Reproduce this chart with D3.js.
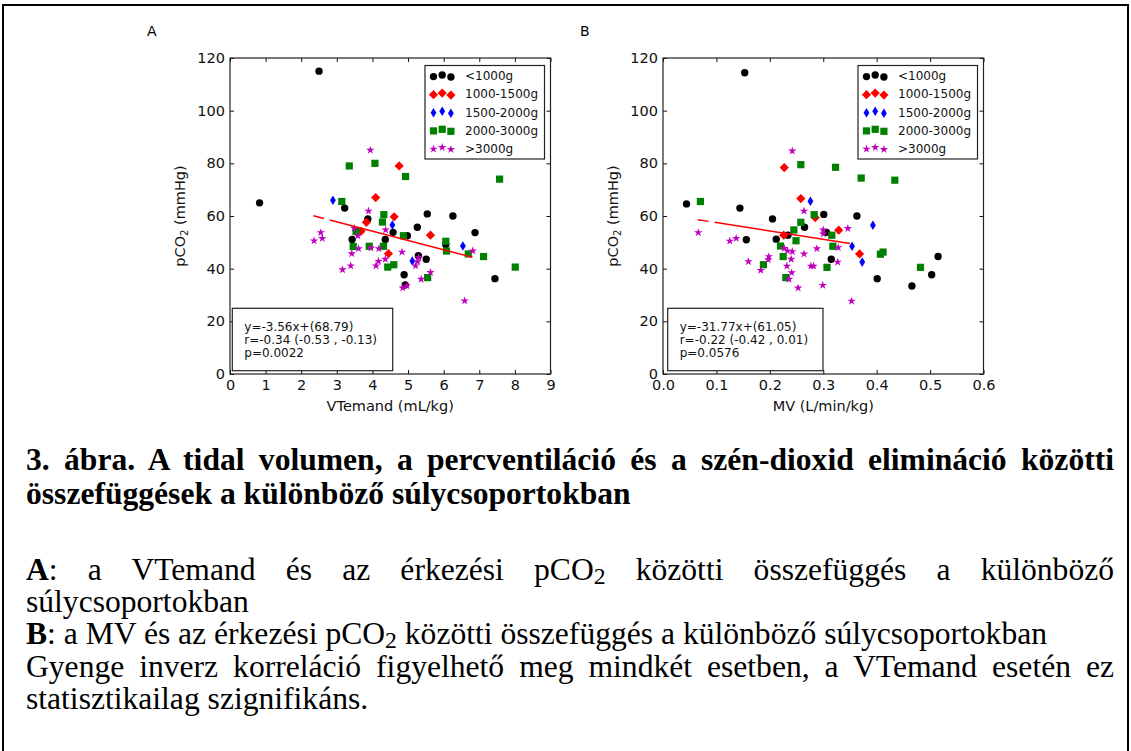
<!DOCTYPE html>
<html>
<head>
<meta charset="utf-8">
<script src="https://cdn.jsdelivr.net/npm/d3@7"></script>
<style>
  body { margin: 0; background: #fff; }
  #wrap { position: relative; width: 1131px; height: 751px; overflow: hidden; }
  svg { position: absolute; left: 0; top: 0; }
  .cap { position: absolute; left: 26px; font-family: "Liberation Serif", "Times New Roman", serif;
         font-size: 30.5px; line-height: 30.5px; white-space: nowrap; transform-origin: 0 0; color: #000; }
  .cap.just { white-space: normal; text-align: justify; text-align-last: justify; }
  .cap sub { font-size: 75%; line-height: 0; vertical-align: baseline; position: relative; top: 0.18em; }
</style>
</head>
<body>
<div id="wrap"></div>
<script>
// ---- data ----
const groupNames = ["<1000g", "1000-1500g", "1500-2000g", "2000-3000g", ">3000g"];
const yTicks = [0, 20, 40, 60, 80, 100, 120];
const xTicksA = [0, 1, 2, 3, 4, 5, 6, 7, 8, 9];
const xTicksB = [0, 0.1, 0.2, 0.3, 0.4, 0.5, 0.6];

// panel A : VTemand (mL/kg) vs pCO2
const aUnder1000 = [[2.5,115],[0.83,65],[3.22,63],[3.87,58.9],[5.54,60.8],[6.26,60],[5.26,55.7],[4.58,53.8],
  [4.98,52.5],[3.43,51.1],[4.36,51.1],[6.06,49.2],[6.88,53.7],[5.29,44.9],[5.51,43.6],[4.89,37.7],[4.92,33.8],[7.44,36.2]];
const a1000to1500 = [[4.75,79],[4.09,67],[4.61,59.7],[3.83,57.6],[3.68,54.2],[5.63,52.7],[4.45,45.7]];
const a1500to2000 = [[2.89,66],[4.56,56.6],[6.54,48.6],[5.12,42.9]];
const a2000to3000 = [[3.35,79],[4.07,80],[4.93,75],[7.57,74],[3.14,65.5],[4.32,60.5],[4.28,57.7],[3.54,54.1],
  [4.87,52.5],[3.91,48.5],[4.31,48.5],[3.46,48.4],[6.06,50.4],[6.08,46.7],[6.69,45.6],[7.12,44.6],[4.43,40.6],
  [4.6,41.5],[5.55,36.6],[8.01,40.6]];
const aOver3000 = [[3.94,85],[3.89,61.9],[3.49,55.4],[3.59,52.5],[4.37,54.7],[2.55,53.7],[2.59,51.5],[2.36,50.6],
  [3.61,47.6],[3.96,47.9],[4.18,47.6],[6.82,46.8],[3.42,45.7],[4.83,46.3],[4.36,43.6],[4.17,42.8],[4.1,41.1],
  [5.3,44.3],[5.27,42.7],[5.21,41.1],[3.39,41.1],[3.16,39.6],[5.63,38.6],[5.37,36],[4.97,33.5],[4.85,32.7],[6.59,27.8]];
const aFit = [[2.34,60.1],[6.81,44.3]];
const aStats = ["y=-3.56x+(68.79)", "r=-0.34 (-0.53 , -0.13)", "p=0.0022"];

// panel B : MV (L/min/kg) vs pCO2
const bUnder1000 = [[0.153,114.4],[0.044,64.6],[0.144,63],[0.301,60.6],[0.363,60],[0.205,58.9],[0.265,55.7],
  [0.306,53.8],[0.234,52.7],[0.156,51],[0.212,51.2],[0.315,43.6],[0.401,36.2],[0.466,33.4],[0.503,37.7],[0.515,44.6]];
const b1000to1500 = [[0.227,78.4],[0.258,66.6],[0.285,59.4],[0.329,54.6],[0.226,52.7],[0.368,45.6]];
const b1500to2000 = [[0.276,65.6],[0.393,56.5],[0.354,48.5],[0.373,42.5]];
const b2000to3000 = [[0.258,79.5],[0.323,78.5],[0.371,74.4],[0.434,73.6],[0.07,65.5],[0.283,60.5],[0.258,57.6],
  [0.245,54.7],[0.316,52.7],[0.249,50.6],[0.22,48.6],[0.318,48.5],[0.225,44.6],[0.407,45.5],[0.412,46.3],
  [0.188,41.5],[0.307,40.5],[0.23,36.6],[0.482,40.5]];
const bOver3000 = [[0.242,84.7],[0.264,61.9],[0.346,55.3],[0.3,54.7],[0.3,53.2],[0.066,53.7],[0.125,50.5],
  [0.137,51.5],[0.328,48],[0.227,47.7],[0.233,46.8],[0.242,46.5],[0.288,47.6],[0.264,45.6],[0.198,44.6],
  [0.197,43.4],[0.24,43.6],[0.327,42.5],[0.16,42.7],[0.183,39.4],[0.232,41],[0.277,41],[0.282,41],[0.241,38.5],
  [0.236,36],[0.253,32.7],[0.299,33.7],[0.353,27.7]];
const bFit = [[0.065,58.6],[0.35,49.6]];
const bStats = ["y=-31.77x+(61.05)", "r=-0.22 (-0.42 , 0.01)", "p=0.0576"];

const captionLines = [
  "<b>3. ábra. A tidal volumen, a percventiláció és a szén-dioxid elimináció közötti</b>",
  "<b>összefüggések a különböző súlycsoportokban</b>",
  "<b>A</b>: a VTemand és az érkezési pCO<sub>2</sub> közötti összefüggés a különböző",
  "súlycsoportokban",
  "<b>B</b>: a MV és az érkezési pCO<sub>2</sub> közötti összefüggés a különböző súlycsoportokban",
  "Gyenge inverz korreláció figyelhető meg mindkét esetben, a VTemand esetén ez",
  "statisztikailag szignifikáns."
];
const captionJustified = [true, false, true, false, false, true, false];

// ---- styles ----
const colors = ["#000000", "#ff0000", "#0000ff", "#008000", "#bf00bf"];
const shapes = [
  d3.symbol(d3.symbolCircle, Math.PI * 3.7 * 3.7)(),
  "M0,-4.6L4.6,0L0,4.6L-4.6,0Z",
  "M0,-4.8L2.9,0L0,4.8L-2.9,0Z",
  d3.symbol(d3.symbolSquare, 52)(),
  d3.symbol(d3.symbolStar, 22)()
];
const font = "'DejaVu Sans', 'Bitstream Vera Sans', sans-serif";
const plotTop = 58, plotBottom = 374, plotW = 320.5;

const svg = d3.select("#wrap").append("svg").attr("width", 1131).attr("height", 751);

// outer border of the figure
svg.append("rect").attr("x", 3).attr("y", 5).attr("width", 1125).attr("height", 780)
  .attr("fill", "none").attr("stroke", "#000").attr("stroke-width", 2);

function drawPanel(cfg) {
  const x = d3.scaleLinear().domain(cfg.xDomain).range([cfg.left, cfg.left + plotW]);
  const y = d3.scaleLinear().domain([0, 120]).range([plotBottom, plotTop]);
  const g = svg.append("g");

  g.append("text").attr("x", cfg.left - 83).attr("y", 35.5).attr("font-family", font)
    .attr("font-size", 14).text(cfg.letter);

  const bottom = g.append("g").attr("transform", "translate(0," + plotBottom + ")")
    .call(d3.axisBottom(x).tickValues(cfg.xTicks).tickFormat(cfg.xFmt).tickSizeInner(-4).tickSizeOuter(0).tickPadding(6));
  g.append("g").attr("transform", "translate(0," + plotTop + ")")
    .call(d3.axisTop(x).tickValues(cfg.xTicks).tickFormat("").tickSizeInner(-4).tickSizeOuter(0));
  const left = g.append("g").attr("transform", "translate(" + cfg.left + ",0)")
    .call(d3.axisLeft(y).tickValues(yTicks).tickSizeInner(-4).tickSizeOuter(0).tickPadding(5));
  g.append("g").attr("transform", "translate(" + (cfg.left + plotW) + ",0)")
    .call(d3.axisRight(y).tickValues(yTicks).tickFormat("").tickSizeInner(-4).tickSizeOuter(0));
  g.selectAll(".domain").remove();
  g.selectAll(".tick line").attr("stroke", "#111");
  [bottom, left].forEach(a => a.selectAll("text").attr("font-family", font).attr("font-size", 14.5).attr("fill", "#111"));

  g.append("rect").attr("x", cfg.left).attr("y", plotTop).attr("width", plotW).attr("height", plotBottom - plotTop)
    .attr("fill", "none").attr("stroke", "#222").attr("stroke-width", 1.2);

  // axis labels
  g.append("text").attr("x", cfg.left + plotW / 2).attr("y", 411).attr("text-anchor", "middle")
    .attr("font-family", font).attr("font-size", 14.5).attr("fill", "#111").text(cfg.xLabel);
  const yl = g.append("text").attr("transform", "translate(" + (cfg.left - 45) + "," + ((plotTop + plotBottom) / 2) + ") rotate(-90)")
    .attr("text-anchor", "middle").attr("font-family", font).attr("font-size", 14.5).attr("fill", "#111");
  yl.append("tspan").text("pCO");
  yl.append("tspan").attr("font-size", 10).attr("dy", 3).text("2");
  yl.append("tspan").attr("dy", -3).text(" (mmHg)");

  // points, group by group
  cfg.series.forEach((pts, i) => {
    g.append("g").selectAll("path").data(pts).join("path")
      .attr("d", shapes[i])
      .attr("transform", d => "translate(" + x(d[0]) + "," + y(d[1]) + ")")
      .attr("fill", colors[i]);
  });

  // fitted line
  g.append("path").datum(cfg.fit)
    .attr("d", d3.line().x(d => x(d[0])).y(d => y(d[1])))
    .attr("fill", "none").attr("stroke", "#ff0000").attr("stroke-width", 1.5)
    .attr("stroke-dasharray", "11,6,2000");

  // legend
  const lx = cfg.left + plotW - 125.5, ly = plotTop + 7.5;
  const lg = g.append("g");
  lg.append("rect").attr("x", lx).attr("y", ly).attr("width", 119.5).attr("height", 93.5)
    .attr("fill", "#fff").attr("stroke", "#222").attr("stroke-width", 1.2);
  const offs = [0.6, -1, 1];
  groupNames.forEach((name, i) => {
    const ry = ly + 10.5 + i * 18.1;
    offs.forEach((o, j) => {
      lg.append("path").attr("d", shapes[i]).attr("fill", colors[i])
        .attr("transform", "translate(" + (lx + 8.5 + j * 8.7) + "," + (ry + o) + ")");
    });
    lg.append("text").attr("x", lx + 40).attr("y", ry + 4.3).attr("font-family", font)
      .attr("font-size", 12).attr("fill", "#111").text(name);
  });

  // stats box
  const sx = cfg.left + cfg.boxOff;
  g.append("rect").attr("x", sx).attr("y", 308.3).attr("width", cfg.boxW).attr("height", 62.4)
    .attr("fill", "#fff").attr("stroke", "#222").attr("stroke-width", 1.2);
  cfg.stats.forEach((s, i) => {
    g.append("text").attr("x", sx + 12).attr("y", 331 + i * 12.9).attr("font-family", font)
      .attr("font-size", 12).attr("fill", "#111").text(s);
  });
}

drawPanel({
  letter: "A", left: 230, xDomain: [0, 9], xTicks: xTicksA, xFmt: d3.format("d"),
  xLabel: "VTemand (mL/kg)", series: [aUnder1000, a1000to1500, a1500to2000, a2000to3000, aOver3000],
  fit: aFit, stats: aStats, boxOff: 2.3, boxW: 160.4
});
drawPanel({
  letter: "B", left: 663, xDomain: [0, 0.6], xTicks: xTicksB, xFmt: d3.format(".1f"),
  xLabel: "MV (L/min/kg)", series: [bUnder1000, b1000to1500, b1500to2000, b2000to3000, bOver3000],
  fit: bFit, stats: bStats, boxOff: 4.7, boxW: 155.3
});

// ---- caption ----
const capBaselines = [470, 504, 580, 612, 644, 677, 709];
const capLeft = 26, capRight = 1114, refEnd = 1047;
const caps = d3.select("#wrap").selectAll("div.cap").data(captionLines).join("div")
  .attr("class", "cap").html(d => d);
// slight horizontal stretch, taken from the natural width of the "B" line
const natural = caps.nodes()[4].getBoundingClientRect().width;
const stretch = (refEnd - capLeft) / natural;
caps.each(function (d, i) {
  const el = d3.select(this);
  if (captionJustified[i]) el.classed("just", true).style("width", ((capRight - capLeft) / stretch) + "px");
  el.style("top", (capBaselines[i] - 25.5) + "px").style("transform", "scaleX(" + stretch + ")");
});
</script>
</body>
</html>
